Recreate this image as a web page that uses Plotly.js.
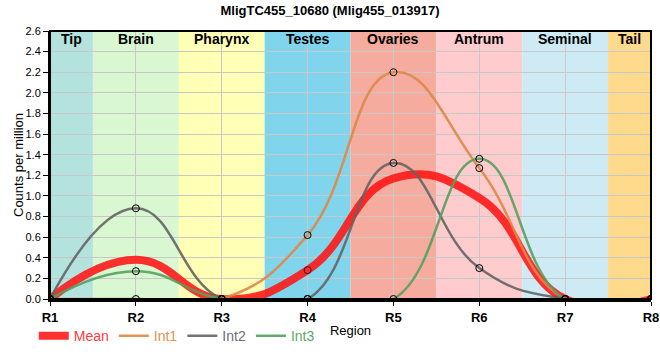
<!DOCTYPE html>
<html>
<head>
<meta charset="utf-8">
<script src="https://cdn.plot.ly/plotly-3.0.1.min.js"></script>
<style>html,body{margin:0;padding:0;background:#fff}#chart{width:660px;height:360px}</style>
</head>
<body>
<div id="chart"></div>
<script>
const regions = ['R1','R2','R3','R4','R5','R6','R7','R8'];
const meanVals = [0, 0.38, 0, 0.28, 1.17, 0.98, 0, 0];
const int1Vals = [0, 0, 0, 0.62, 2.20, 1.27, 0, 0];
const int2Vals = [0, 0.88, 0, 0, 1.32, 0.30, 0, 0];
const int3Vals = [0, 0.27, 0, 0, 0, 1.36, 0, 0];
const tissues = ['Tip','Brain','Pharynx','Testes','Ovaries','Antrum','Seminal','Tail'];
const tissueStart = [0, 0.5, 1.5, 2.5, 3.5, 4.5, 5.5, 6.5];
const tissueEnd = [0.5, 1.5, 2.5, 3.5, 4.5, 5.5, 6.5, 7];
const tissueColors = ['#b4e3de','#d9f7d0','#ffffb5','#80d5ed','#f5ab9e','#fecccc','#ceebf5','#fedb8c'];

const series = [
  {name:'Mean', vals:meanVals, line:'rgba(255,20,20,0.88)', text:'#ff3b3b', width:8},
  {name:'Int1', vals:int1Vals, line:'rgba(222,135,70,0.9)', text:'#e0904f', width:2.5},
  {name:'Int2', vals:int2Vals, line:'rgba(100,100,100,0.9)', text:'#6e6e78', width:2.5},
  {name:'Int3', vals:int3Vals, line:'rgba(85,160,95,0.9)', text:'#5da865', width:2.5}
];

const traces = series.map(s => ({
  x:regions, y:s.vals, mode:'lines', name:'<span style="color:'+s.text+'">'+s.name+'</span>',
  line:{color:s.line, width:s.width, shape:'spline', smoothing:1.3}, hoverinfo:'skip'
}));
// open markers on the replicate values (and the mean point at R4, as in the original)
series.forEach((s, k) => {
  traces.push({x:regions, y:s.vals, mode:'markers', showlegend:false,
    marker:{symbol:'circle-open', size: k === 0 ? regions.map(r => r === 'R4' ? 7 : 0) : 7,
      color:'#000', line:{width:1, color:'#000'}}});
});

const shapes = tissues.map((t,i)=>({type:'rect', xref:'x', yref:'paper', x0:tissueStart[i], x1:tissueEnd[i], y0:0, y1:1,
  fillcolor:tissueColors[i], line:{width:0}, layer:'below'}));
shapes.push({type:'rect', xref:'paper', yref:'paper', x0:0, x1:1, y0:0, y1:1, line:{color:'#000', width:2}, layer:'above'});

const annotations = tissues.map((t,i)=>({text:'<b>'+t+'</b>', xref:'x', yref:'paper', x:(tissueStart[i]+tissueEnd[i])/2, y:1,
  yanchor:'top', yshift:2, showarrow:false, font:{family:'Liberation Sans, Arial, sans-serif', size:14, color:'#000'}}));
annotations.push({text:'Counts per million', xref:'paper', yref:'paper', x:0, y:0.5, xshift:-32, textangle:-90,
  xanchor:'center', yanchor:'middle', showarrow:false, font:{size:13, color:'#000'}});

const layout = {
  width:660, height:360,
  margin:{l:50, r:9, t:31, b:60},
  paper_bgcolor:'#fff', plot_bgcolor:'#fff',
  font:{family:'Liberation Sans, Arial, sans-serif', color:'#000'},
  title:{text:'<b>MligTC455_10680 (Mlig455_013917)</b>', x:0.5, xanchor:'center', y:0.972, yanchor:'middle', font:{size:13, color:'#000'}},
  xaxis:{type:'category', range:[0,7], automargin:false, showgrid:true, gridcolor:'#c8c8c8', gridwidth:1,
    showline:true, linecolor:'#000', linewidth:3, ticks:'outside', ticklen:4, tickcolor:'#000',
    tickfont:{size:13, color:'#000'}, tickprefix:'<b>', ticksuffix:'</b>',
    title:{text:'Region', font:{size:13}, standoff:3}, zeroline:false},
  yaxis:{range:[0,2.6], dtick:0.2, tickformat:'.1f', automargin:false, showgrid:true, gridcolor:'#c8c8c8', gridwidth:1,
    showline:true, linecolor:'#000', linewidth:2, ticks:'outside', ticklen:5, tickcolor:'#000',
    tickfont:{size:11, color:'#000'}, zeroline:false},
  legend:{orientation:'h', x:-0.027, xanchor:'left', y:-0.075, yanchor:'top', font:{size:14}, bgcolor:'rgba(0,0,0,0)',
    itemwidth:30, tracegroupgap:0},
  shapes:shapes, annotations:annotations, showlegend:true
};

Plotly.newPlot('chart', traces, layout, {displayModeBar:false, staticPlot:true});
</script>
</body>
</html>
